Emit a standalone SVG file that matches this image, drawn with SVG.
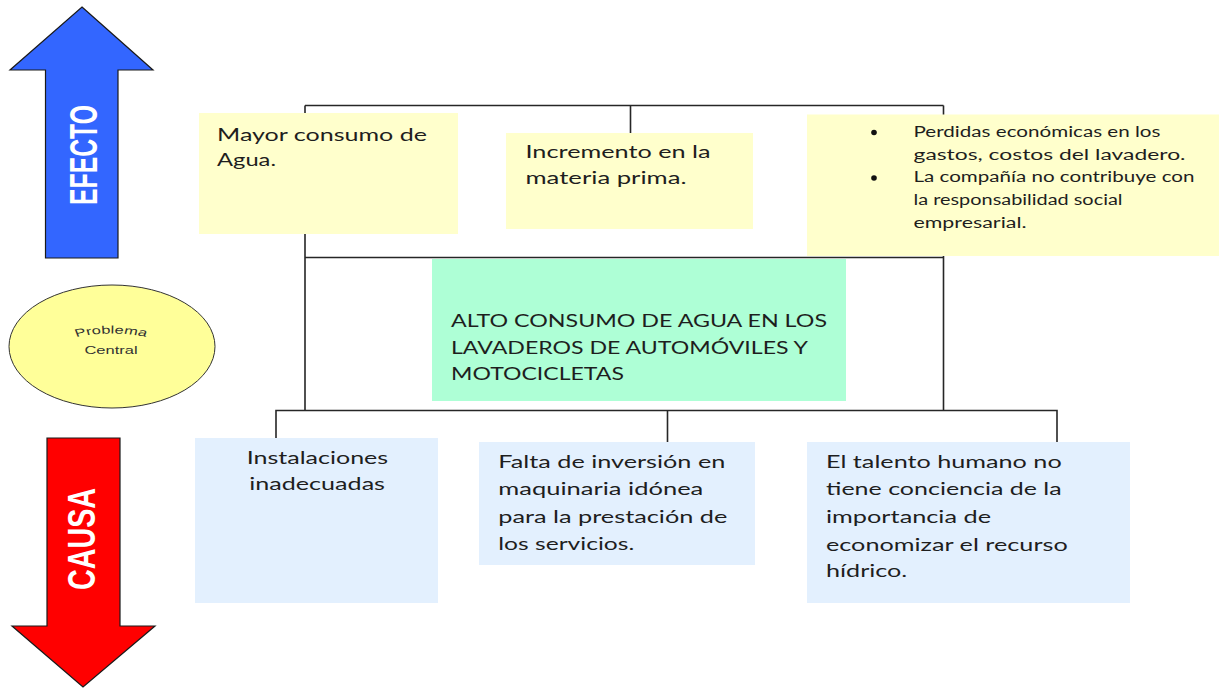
<svg xmlns="http://www.w3.org/2000/svg" width="1219" height="689" viewBox="0 0 1219 689">
<style>
.ln{fill:none;stroke:#262626;stroke-width:1.6}
.eff{fill:#ffffcc}
.cau{fill:#e3f0fe}
.cen{fill:#aeffd6}
.t{font-family:Lato,"Open Sans",sans-serif;font-size:17.5px;fill:#1e1e1e}
.tb{font-family:Lato,"Open Sans",sans-serif;font-size:14.5px;fill:#1e1e1e}
.arr{font-family:"Liberation Sans",Arial,sans-serif;font-weight:bold;font-size:38px;fill:#ffffff}
.small{font-family:"Liberation Sans",Arial,sans-serif;font-size:11px;fill:#333333}
</style>
<defs>
<path id="arcP" d="M87.7,337 Q111,330 134.3,337"/>
</defs>
<rect width="1219" height="689" fill="#ffffff"/>

<g id="connectors">
<path class="ln" d="M305,105.5 H943.5 M630.5,105.5 V133 M943.5,105.5 V410.5 M305,105.5 V410.5 M305,257.5 H943.5 M276,438 V410.5 H1057 V442 M667.5,410.5 V442"/>
</g>

<g id="arrow-efecto">
<polygon points="82,7 153,70 118,70 118,258 45.5,258 45.5,70 10,70" fill="#3366ff" stroke="#1a1a1a" stroke-width="1.2"/>
<text class="arr" transform="translate(97,155) rotate(-90)" x="-50" y="0" textLength="100" lengthAdjust="spacingAndGlyphs">EFECTO</text>
</g>

<g id="problema-central">
<ellipse cx="112" cy="346.5" rx="103" ry="61.5" fill="#ffff99" stroke="#333333" stroke-width="1"/>
<g transform="matrix(1.5 0 0 1 -55.5 0)">
<text class="small" text-anchor="middle"><textPath href="#arcP" startOffset="50%">Problema</textPath></text>
<text class="small" x="111" y="354.5" text-anchor="middle">Central</text>
</g>
</g>

<g id="arrow-causa">
<polygon points="47,438 120,438 120,626 155,626 83,687 12,626 47,626" fill="#ff0000" stroke="#1a1a1a" stroke-width="1.2"/>
<text class="arr" transform="translate(95,539) rotate(-90)" x="-51" y="0" textLength="102" lengthAdjust="spacingAndGlyphs">CAUSA</text>
</g>

<g id="efecto-1">
<rect class="eff" x="199" y="113" width="259" height="121"/>
<text class="t" x="217" y="140.5" textLength="210" lengthAdjust="spacingAndGlyphs">Mayor consumo de</text>
<text class="t" x="217" y="166" textLength="59" lengthAdjust="spacingAndGlyphs">Agua.</text>
</g>

<g id="efecto-2">
<rect class="eff" x="506" y="133" width="247" height="96"/>
<text class="t" x="525.5" y="158" textLength="185" lengthAdjust="spacingAndGlyphs">Incremento en la</text>
<text class="t" x="525.5" y="184" textLength="161" lengthAdjust="spacingAndGlyphs">materia prima.</text>
</g>

<g id="efecto-3">
<rect class="eff" x="807" y="114.5" width="412" height="141.5"/>
<circle cx="874" cy="132.5" r="2.8" fill="#111111"/>
<circle cx="874" cy="178" r="2.8" fill="#111111"/>
<text class="tb" x="913.5" y="136.7" textLength="247" lengthAdjust="spacingAndGlyphs">Perdidas económicas en los</text>
<text class="tb" x="913.5" y="159.5" textLength="272" lengthAdjust="spacingAndGlyphs">gastos, costos del lavadero.</text>
<text class="tb" x="913.5" y="182" textLength="281" lengthAdjust="spacingAndGlyphs">La compañía no contribuye con</text>
<text class="tb" x="913.5" y="205" textLength="209" lengthAdjust="spacingAndGlyphs">la responsabilidad social</text>
<text class="tb" x="913.5" y="227.5" textLength="113" lengthAdjust="spacingAndGlyphs">empresarial.</text>
</g>

<g id="problema">
<rect class="cen" x="432" y="259" width="414" height="142"/>
<text class="t" x="451" y="327" textLength="376" lengthAdjust="spacingAndGlyphs">ALTO CONSUMO DE AGUA EN LOS</text>
<text class="t" x="451" y="353.5" textLength="357" lengthAdjust="spacingAndGlyphs">LAVADEROS DE AUTOMÓVILES Y</text>
<text class="t" x="451" y="379.5" textLength="173" lengthAdjust="spacingAndGlyphs">MOTOCICLETAS</text>
</g>

<g id="causa-1">
<rect class="cau" x="195" y="438" width="243" height="165"/>
<text class="t" x="246.7" y="464" textLength="141.5" lengthAdjust="spacingAndGlyphs">Instalaciones</text>
<text class="t" x="249.3" y="490" textLength="135.7" lengthAdjust="spacingAndGlyphs">inadecuadas</text>
</g>

<g id="causa-2">
<rect class="cau" x="479" y="442" width="276" height="123"/>
<text class="t" x="498.3" y="467.5" textLength="227" lengthAdjust="spacingAndGlyphs">Falta de inversión en</text>
<text class="t" x="498.3" y="495" textLength="205" lengthAdjust="spacingAndGlyphs">maquinaria idónea</text>
<text class="t" x="498.3" y="522.5" textLength="229" lengthAdjust="spacingAndGlyphs">para la prestación de</text>
<text class="t" x="498.3" y="549.5" textLength="136" lengthAdjust="spacingAndGlyphs">los servicios.</text>
</g>

<g id="causa-3">
<rect class="cau" x="807" y="442" width="323" height="161"/>
<text class="t" x="826" y="467.5" textLength="235.7" lengthAdjust="spacingAndGlyphs">El talento humano no</text>
<text class="t" x="826" y="495" textLength="235.7" lengthAdjust="spacingAndGlyphs">tiene conciencia de la</text>
<text class="t" x="826" y="523" textLength="165" lengthAdjust="spacingAndGlyphs">importancia de</text>
<text class="t" x="826" y="550.5" textLength="241.7" lengthAdjust="spacingAndGlyphs">economizar el recurso</text>
<text class="t" x="826" y="577" textLength="81.3" lengthAdjust="spacingAndGlyphs">hídrico.</text>
</g>
</svg>
